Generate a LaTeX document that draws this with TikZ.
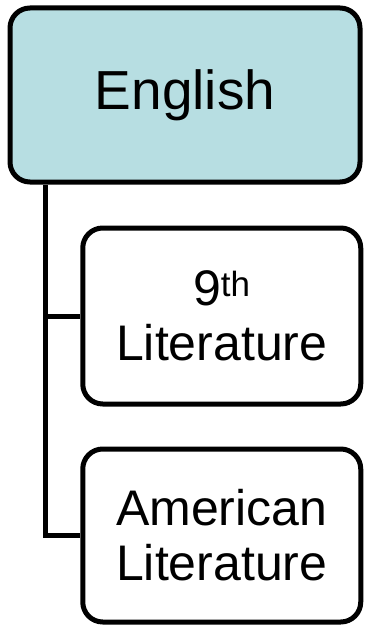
\documentclass[tikz,border=0pt]{standalone}
\usepackage{fontspec}
\setmainfont{Liberation Sans}
\usepackage{tikz}
\usetikzlibrary{positioning}
\definecolor{headfill}{RGB}{183,222,226}

\begin{document}
\begin{tikzpicture}[x=1pt, y=-1pt]
    \useasboundingbox (0,0) rectangle (366,626);
    % boxes
    \node[draw, line width=5pt, rounded corners=20pt, fill=headfill, minimum width=350pt, minimum height=174pt, font=\fontsize{55}{60}\selectfont] (eng) at (185,95) {English};
    \node[draw, line width=5pt, rounded corners=20pt, fill=white, minimum width=278pt, minimum height=176pt, align=center, font=\fontsize{50}{55}\selectfont] (lit9) at (221.75,316) {9\textsuperscript{th}\\Literature};
    \node[draw, line width=5pt, rounded corners=20pt, fill=white, minimum width=278pt, minimum height=173pt, align=center, font=\fontsize{50}{55}\selectfont] (amlit) at (221.75,535.5) {American\\Literature};
    % tree lines
    \coordinate (trunk) at (45.5,0);
    \draw[line width=5pt] (trunk |- eng.south) -- (trunk |- amlit.west) -- (amlit.west);
    \draw[line width=5pt] (trunk |- lit9.west) -- (lit9.west);
\end{tikzpicture}
\end{document}
